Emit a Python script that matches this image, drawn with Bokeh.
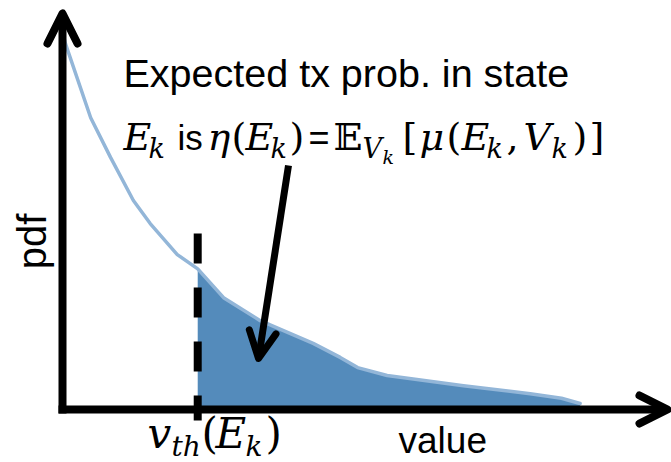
import numpy as np
from bokeh.plotting import figure
from bokeh.models import Range1d, Arrow, OpenHead, Label
from bokeh.embed import file_html
from bokeh.resources import INLINE

# pdf of the value, sampled along the value axis (arbitrary units)
value_x = [0.0, 0.05, 0.47, 0.80, 1.18, 1.46, 1.91, 2.25, 2.68, 3.29, 4.17, 4.62, 4.91, 5.40, 6.67, 7.78, 8.30, 8.61]
pdf_y = [1.0, 0.968, 0.772, 0.667, 0.553, 0.492, 0.410, 0.372, 0.296, 0.235, 0.175, 0.138, 0.111, 0.090, 0.063, 0.042, 0.030, 0.016]
V_TH = 2.25  # threshold v_th(E_k)

W, H = 671, 462
X0, X1 = -1.03, 10.13
Y0, Y1 = -0.14, 1.082


def X(px):
    return X0 + px * (X1 - X0) / W


def Y(py):
    return Y1 - py * (Y1 - Y0) / H


p = figure(width=W, height=H, x_range=Range1d(X0, X1), y_range=Range1d(Y0, Y1),
           x_axis_type=None, y_axis_type=None, output_backend="svg",
           toolbar_location=None, min_border=0)
p.grid.visible = False
p.outline_line_color = None
p.background_fill_color = "white"
p.border_fill_color = "white"

FILL = "#548bbb"
LINE = "#93b6d8"

# shaded tail above the threshold
fx = [x for x in value_x if x >= V_TH]
fy = [y for x, y in zip(value_x, pdf_y) if x >= V_TH]
p.varea(x=fx, y1=0, y2=fy, fill_color=FILL)

# pdf curve
p.line(value_x, pdf_y, line_color=LINE, line_width=3.5, line_cap="round", line_join="round")

# dashed threshold marker
p.line([V_TH, V_TH], [Y(233), Y(420)], line_color="black", line_width=8,
       line_dash="30 24", line_cap="butt")

# axes drawn as arrows
AX = 8
p.add_layout(Arrow(x_start=X(62), y_start=Y(413), x_end=X(62), y_end=Y(13),
                   line_width=AX, line_color="black",
                   end=OpenHead(size=30, line_width=AX, line_color="black",
                                line_cap="round", line_join="round")))
p.add_layout(Arrow(x_start=X(58), y_start=Y(409), x_end=X(667), y_end=Y(409),
                   line_width=AX, line_color="black",
                   end=OpenHead(size=28, line_width=AX, line_color="black",
                                line_cap="round", line_join="round")))

# annotation arrow pointing into the shaded area
p.add_layout(Arrow(x_start=X(288), y_start=Y(165), x_end=X(258), y_end=Y(358),
                   line_width=7, line_color="black",
                   end=OpenHead(size=27, line_width=7, line_color="black",
                                line_cap="round", line_join="round")))

SANS = "Liberation Sans"
SERIF = "DejaVu Serif"
LIFT = 0.36  # labels sit this many em below their anchor


def put(txt, px, py, size, font=SANS, style="normal", align="left", baseline="alphabetic", angle=0.0):
    dy = LIFT * size if baseline == "alphabetic" else 0.0
    p.add_layout(Label(x=X(px), y=Y(py - dy), text=txt, text_font=font, text_font_size=f"{size}px",
                       text_font_style=style, text_color="black", text_align=align,
                       text_baseline=baseline, angle=angle))


# axis labels
put("pdf", 31, 241, 40, angle=np.pi / 2, align="center", baseline="middle")
put("value", 398, 453, 37)

# threshold label v_th(E_k)
B0 = 448
put("v", 147, B0, 42, SERIF, "italic")
put("th", 171, B0 + 8, 28, SERIF, "italic")
put("(", 201, B0, 42, SERIF)
put("E", 215, B0, 42, SERIF, "italic")
put("k", 245, B0 + 8, 28, SERIF, "italic")
put(")", 265, B0, 42, SERIF)

# annotation text
put("Expected tx prob. in state", 123, 87, 39.5)

B2 = 150
M, S, SS = 38, 27, 19
put("E", 123, B2, M, SERIF, "italic")
put("k", 148, B2 + 8, S, SERIF, "italic")
put("is", 177, B2, 35)
put("\u03b7", 207, B2, M, SERIF, "italic")
put("(", 231, B2, M, SERIF)
put("E", 245, B2, M, SERIF, "italic")
put("k", 270, B2 + 8, S, SERIF, "italic")
put(")", 289, B2, M, SERIF)
put("=", 308, B2, 36)
put("\U0001D53C", 333, B2, M, SERIF)
put("V", 362, B2 + 8, S, SERIF, "italic")
put("k", 382, B2 + 13, SS, SERIF, "italic")
put("[", 402, B2, M, SERIF)
put("\u03bc", 419, B2, M, SERIF, "italic")
put("(", 446, B2, M, SERIF)
put("E", 461, B2, M, SERIF, "italic")
put("k", 486, B2 + 8, S, SERIF, "italic")
put(",", 506, B2, M, SERIF)
put("V", 523, B2, M, SERIF, "italic")
put("k", 551, B2 + 8, S, SERIF, "italic")
put(")", 572, B2, M, SERIF)
put("]", 589, B2, M, SERIF)

open("out.html", "w").write(file_html(p, INLINE))
